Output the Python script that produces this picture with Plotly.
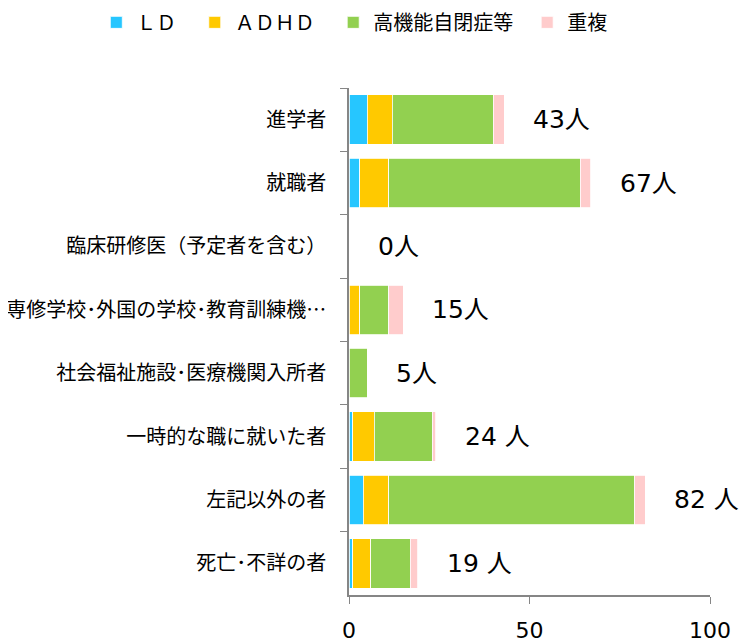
import plotly.graph_objects as go

categories = ["進学者", "就職者", "臨床研修医（予定者を含む）", "専修学校･外国の学校･教育訓練機…",
              "社会福祉施設･医療機関入所者", "一時的な職に就いた者", "左記以外の者", "死亡･不詳の者"]
ld = [5, 3, 0, 0, 0, 1, 4, 1]
adhd = [7, 8, 0, 3, 0, 6, 7, 5]
autism = [28, 53, 0, 8, 5, 16, 68, 11]
dup = [3, 3, 0, 4, 0, 1, 3, 2]
totals = [43, 67, 0, 15, 5, 24, 82, 19]
total_labels = ["43人", "67人", "0人", "15人", "5人", "24 人", "82 人", "19 人"]
series_names = ["ＬＤ", "ＡＤＨＤ", "高機能自閉症等", "重複"]
x_ticks = [0, 50, 100]

colors = ["#26C6FF", "#FFC900", "#92D050", "#FFCCCC"]
legend_pad = ["\u00a0" * 3, "\u00a0" * 3, "\u00a0" * 2, ""]
CJK = "Noto Sans CJK JP"
NUM = "DejaVu Sans, Noto Sans CJK JP"

fig = go.Figure()
for name, vals, col, pad in zip(series_names, [ld, adhd, autism, dup], colors, legend_pad):
    fig.add_trace(go.Bar(
        y=categories, x=vals, name=name + pad, orientation="h",
        marker=dict(color=col, line=dict(color="white", width=0.8)),
    ))

for cat, tot, lab in zip(categories, totals, total_labels):
    fig.add_annotation(x=tot + 7.5, y=cat, text=lab, showarrow=False,
                       xanchor="left", yanchor="middle",
                       font=dict(size=25, color="#000000", family=NUM))

fig.update_layout(
    barmode="stack",
    bargap=0.22,
    width=748, height=636,
    margin=dict(l=341, r=46, t=80, b=49, autoexpand=False),
    paper_bgcolor="white", plot_bgcolor="white",
    font=dict(family=CJK, color="#000000"),
    legend=dict(orientation="h", x=-0.70, xanchor="left",
                y=1.091, yanchor="bottom",
                font=dict(size=20, family=CJK),
                traceorder="normal", itemwidth=30),
    showlegend=True,
)
fig.update_xaxes(range=[0, 100], tickvals=x_ticks, showgrid=False, zeroline=False,
                 showline=True, linecolor="#868686", linewidth=1.5,
                 ticks="outside", ticklen=7, tickcolor="#868686",
                 tickfont=dict(size=22, family=NUM), ticklabelstandoff=8,
                 automargin=False)
fig.update_yaxes(autorange="reversed", showgrid=False, showline=True,
                 linecolor="#868686", linewidth=1.5,
                 ticks="outside", ticklen=7, tickcolor="#868686", tickson="boundaries",
                 tickfont=dict(size=20, family=CJK), ticklabelstandoff=17,
                 automargin=False)

fig.write_html("out.html")
